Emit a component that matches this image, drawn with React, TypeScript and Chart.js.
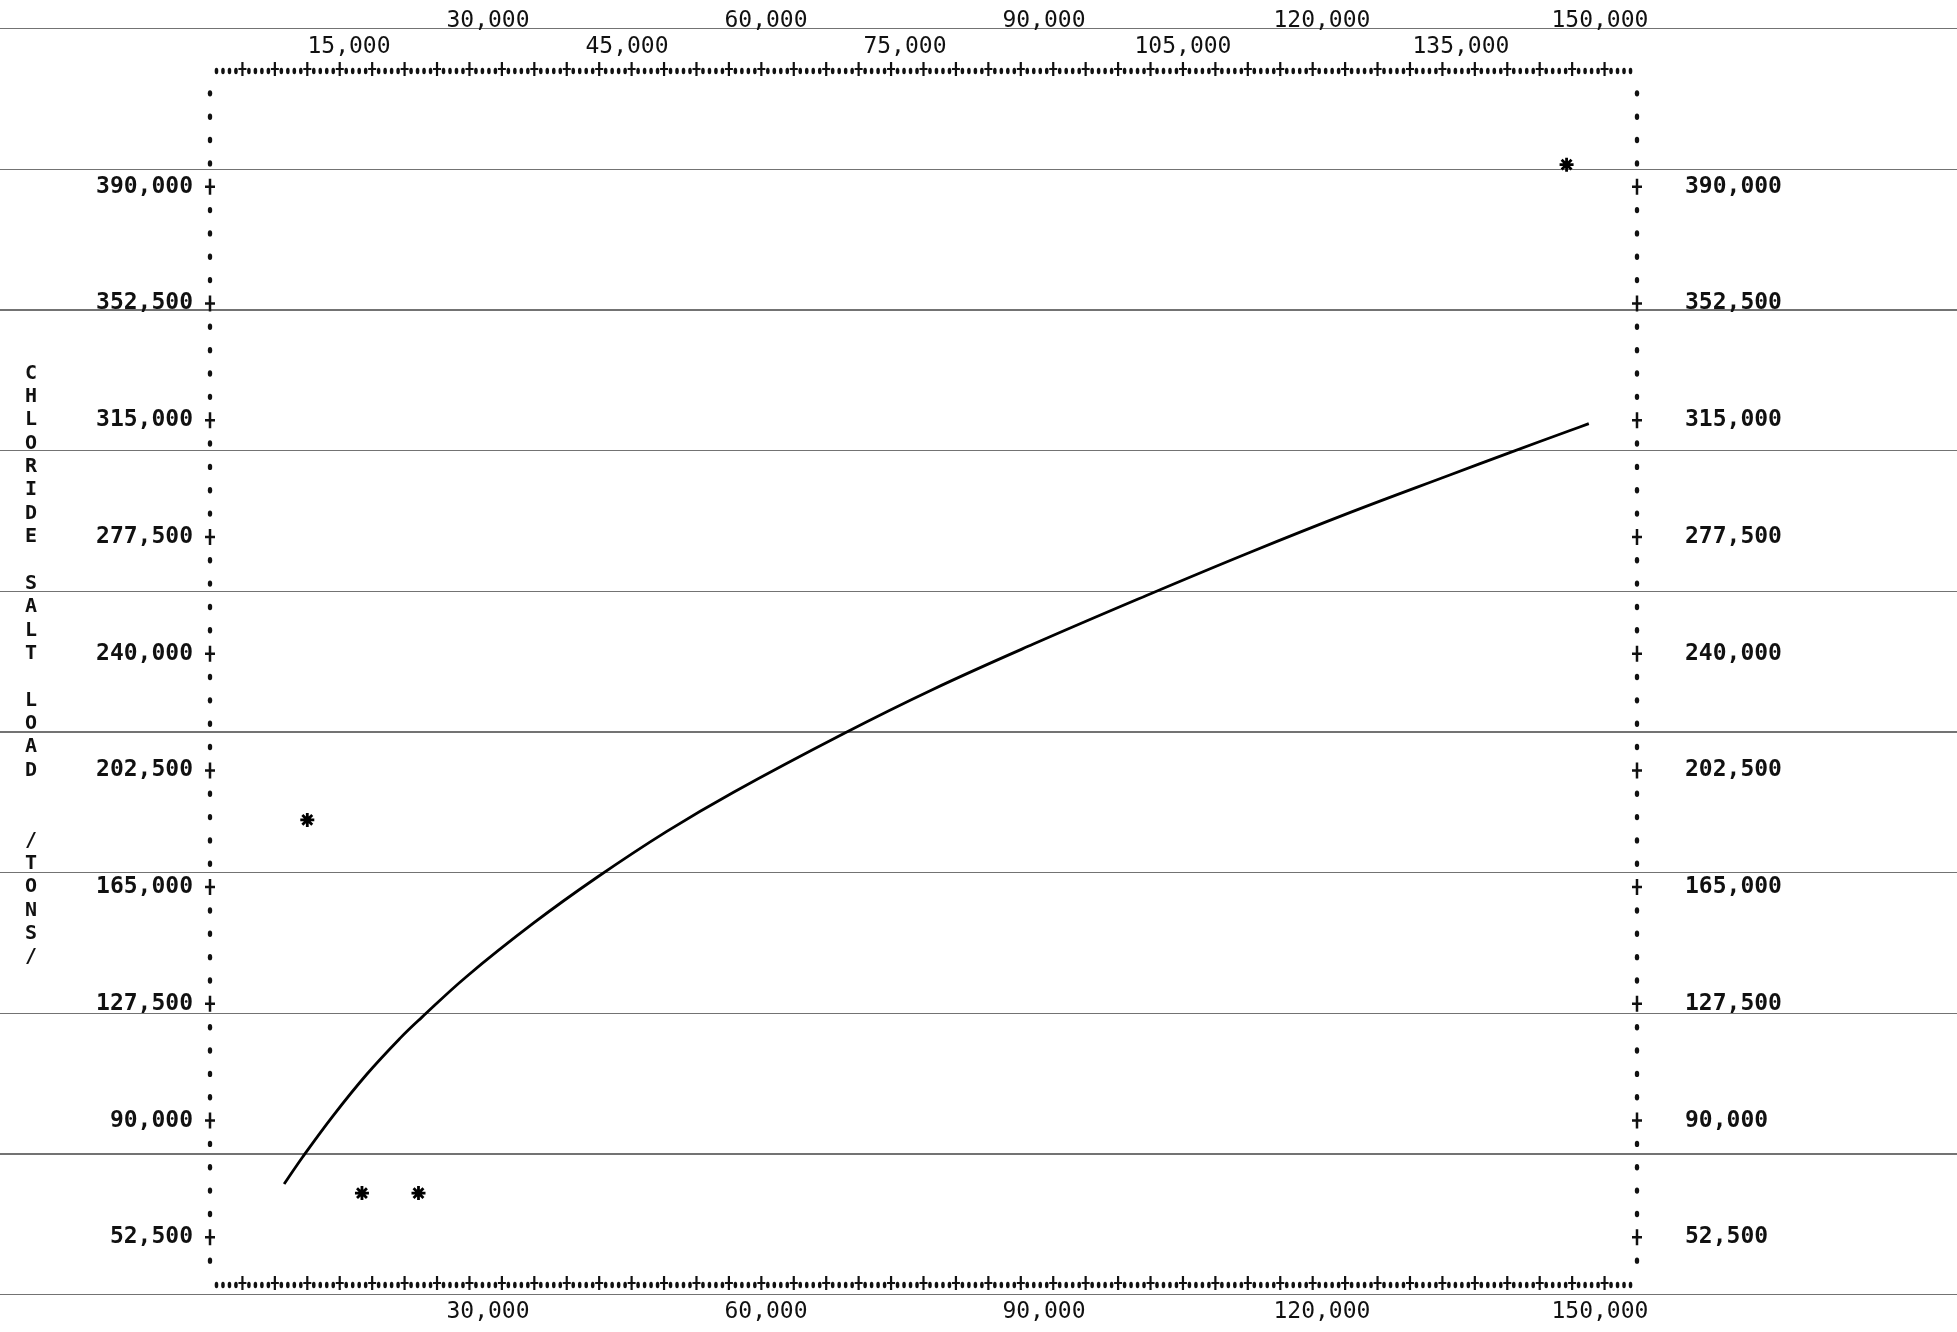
import React, { useEffect, useRef } from 'react';
import { Chart, registerables } from 'chart.js';

Chart.register(...registerables);

// ---- data ----
const X_MIN = 0;
const X_MAX = 154000;
const Y_MIN = 37500;
const Y_MAX = 427500;

const Y_TICKS = [52500, 90000, 127500, 165000, 202500, 240000, 277500, 315000, 352500, 390000];
const X_BOTTOM_TICKS = [30000, 60000, 90000, 120000, 150000];
const X_TOP_OUTER_TICKS = [30000, 60000, 90000, 120000, 150000];
const X_TOP_INNER_TICKS = [15000, 45000, 75000, 105000, 135000];

const Y_ROW_STEP = 7500; // one printer row
const X_COL_STEP = 700; // one printer column
const X_PLUS_EVERY = 5; // '+' every 5 columns

const Y_TITLE = 'CHLORIDE SALT LOAD  /TONS/';
const Y_TITLE_START = 330000;

const curveX = [8000, 10000, 13300, 16900, 20500, 22800, 27700, 34900, 41700, 49300, 56500, 68300, 78000, 88800, 101000, 112200, 123000, 133800, 140200, 146700, 148800];
const curveY = [69600, 78300, 91600, 104800, 116400, 123000, 136300, 153400, 168000, 182900, 195500, 214200, 228500, 243000, 258600, 272500, 285300, 297400, 304500, 311600, 313900];

const obsX = [10500, 16400, 22500, 146400];
const obsY = [186600, 66700, 66700, 397100];

// ---- helpers ----
const fmt = (v: number) => Number(v).toLocaleString('en-US');
const MONO = '"DejaVu Sans Mono", "Liberation Mono", monospace';
const INK = '#111';
const W = 1957;
const H = 1332;

function drawPlus(ctx: CanvasRenderingContext2D, x: number, y: number, hw: number, up: number, down: number, barY: number) {
  ctx.beginPath();
  ctx.moveTo(x - hw, y + barY);
  ctx.lineTo(x + hw, y + barY);
  ctx.moveTo(x, y - up);
  ctx.lineTo(x, y + down);
  ctx.stroke();
}

function drawDot(ctx: CanvasRenderingContext2D, x: number, y: number, rx: number, ry: number) {
  ctx.beginPath();
  ctx.ellipse(x, y, rx, ry, 0, 0, Math.PI * 2);
  ctx.fill();
}

const printerAxes = {
  id: 'printerAxes',
  afterDraw(chart: any) {
    const { ctx, chartArea, scales } = chart;
    const xs = scales.x;
    const ys = scales.y;
    ctx.save();
    ctx.fillStyle = INK;
    ctx.strokeStyle = INK;
    ctx.lineWidth = 2.5;
    // vertical axes (left & right), one mark per printer row
    const nRows = Math.round((Y_MAX - Y_MIN) / Y_ROW_STEP);
    for (let k = 1; k < nRows; k++) {
      const v = Y_MIN + k * Y_ROW_STEP;
      const py = ys.getPixelForValue(v);
      const major = Y_TICKS.includes(v);
      for (const px of [chartArea.left, chartArea.right]) {
        if (major) drawPlus(ctx, px, py, 5, 8, 8, 0);
        else drawDot(ctx, px, py, 2.2, 3.2);
      }
    }
    // horizontal axes (top & bottom), one mark per printer column
    const nCols = Math.round((X_MAX - X_MIN) / X_COL_STEP);
    ctx.lineWidth = 2.2;
    for (let j = 1; j < nCols; j++) {
      const v = X_MIN + j * X_COL_STEP;
      const px = xs.getPixelForValue(v);
      const major = j % X_PLUS_EVERY === 0;
      for (const py of [chartArea.top, chartArea.bottom]) {
        if (major) drawPlus(ctx, px, py, 4, 8, 6, -1);
        else drawDot(ctx, px, py + 1, 1.8, 3.3);
      }
    }
    // stacked vertical axis title, one letter per printer row
    ctx.font = `bold 20px ${MONO}`;
    ctx.textAlign = 'center';
    ctx.textBaseline = 'middle';
    for (let i = 0; i < Y_TITLE.length; i++) {
      const ch = Y_TITLE[i];
      if (ch === ' ') continue;
      const py = ys.getPixelForValue(Y_TITLE_START - i * Y_ROW_STEP);
      ctx.fillText(ch, 31, py);
    }
    ctx.restore();
  },
};

function tickSetter(values: number[]) {
  return (scale: any) => {
    scale.ticks = values.map((v) => ({ value: v }));
  };
}

function fitH(h: number) {
  return (s: any) => {
    s.height = h;
    s.paddingLeft = 0;
    s.paddingRight = 0;
    s.paddingTop = 0;
    s.paddingBottom = 0;
  };
}

function fitW(w: number) {
  return (s: any) => {
    s.width = w;
    s.paddingLeft = 0;
    s.paddingRight = 0;
    s.paddingTop = 0;
    s.paddingBottom = 0;
  };
}

export default function App() {
  const ref = useRef<HTMLCanvasElement | null>(null);

  useEffect(() => {
    if (!ref.current) return;
    const yFont = { family: MONO, size: 23, weight: 'bold' as const };
    const xFont = { family: MONO, size: 23, weight: 'normal' as const };
    const common = {
      grid: { display: false, drawTicks: false, tickLength: 0 },
      border: { display: false },
    };
    const tickBase = { color: INK, autoSkip: false, maxRotation: 0, minRotation: 0, callback: (v: any) => fmt(v) };
    const chart = new Chart(ref.current, {
      type: 'scatter',
      data: {
        datasets: [
          {
            label: 'fit',
            data: curveX.map((x, i) => ({ x, y: curveY[i] })),
            showLine: true,
            borderColor: '#000',
            borderWidth: 2.8,
            pointRadius: 0,
            tension: 0.4,
            xAxisID: 'x',
            yAxisID: 'y',
          },
          {
            label: 'observed',
            data: obsX.map((x, i) => ({ x, y: obsY[i] })),
            showLine: false,
            pointStyle: 'star',
            pointRadius: 7,
            borderWidth: 2.8,
            borderColor: '#000',
            backgroundColor: '#000',
            xAxisID: 'x',
            yAxisID: 'y',
          },
        ],
      },
      options: {
        animation: false,
        responsive: false,
        maintainAspectRatio: false,
        devicePixelRatio: 1,
        layout: { padding: 0 },
        plugins: {
          legend: { display: false },
          tooltip: { enabled: false },
        },
        scales: {
          x: {
            ...common,
            type: 'linear',
            position: 'bottom',
            min: X_MIN,
            max: X_MAX,
            afterBuildTicks: tickSetter(X_BOTTOM_TICKS),
            afterFit: fitH(48),
            ticks: { ...tickBase, font: xFont, padding: 14 },
          },
          x3: {
            ...common,
            type: 'linear',
            position: 'top',
            weight: 0,
            min: X_MIN,
            max: X_MAX,
            afterBuildTicks: tickSetter(X_TOP_INNER_TICKS),
            afterFit: fitH(35),
            ticks: { ...tickBase, font: xFont, padding: 9 },
          },
          x2: {
            ...common,
            type: 'linear',
            position: 'top',
            weight: 1,
            min: X_MIN,
            max: X_MAX,
            afterBuildTicks: tickSetter(X_TOP_OUTER_TICKS),
            afterFit: fitH(35),
            ticks: { ...tickBase, font: xFont, padding: 0 },
          },
          y: {
            ...common,
            type: 'linear',
            position: 'left',
            min: Y_MIN,
            max: Y_MAX,
            afterBuildTicks: tickSetter(Y_TICKS),
            afterFit: fitW(210),
            ticks: { ...tickBase, font: yFont, padding: 17 },
          },
          y2: {
            ...common,
            type: 'linear',
            position: 'right',
            min: Y_MIN,
            max: Y_MAX,
            afterBuildTicks: tickSetter(Y_TICKS),
            afterFit: fitW(320),
            ticks: { ...tickBase, font: yFont, padding: 48 },
          },
        },
      },
      plugins: [printerAxes],
    } as any);
    return () => chart.destroy();
  }, []);

  return (
    <div
      style={{
        position: 'absolute',
        left: 0,
        top: 0,
        width: W,
        height: H,
        overflow: 'hidden',
        background: '#fff',
        backgroundImage:
          'repeating-linear-gradient(to bottom, transparent 0px, transparent 28px, rgba(0,0,0,0.55) 28px, rgba(0,0,0,0.55) 29.5px, transparent 29.5px, transparent 140.65px)',
      }}
    >
      <canvas ref={ref} width={W} height={H} style={{ display: 'block', width: W, height: H }} />
    </div>
  );
}
